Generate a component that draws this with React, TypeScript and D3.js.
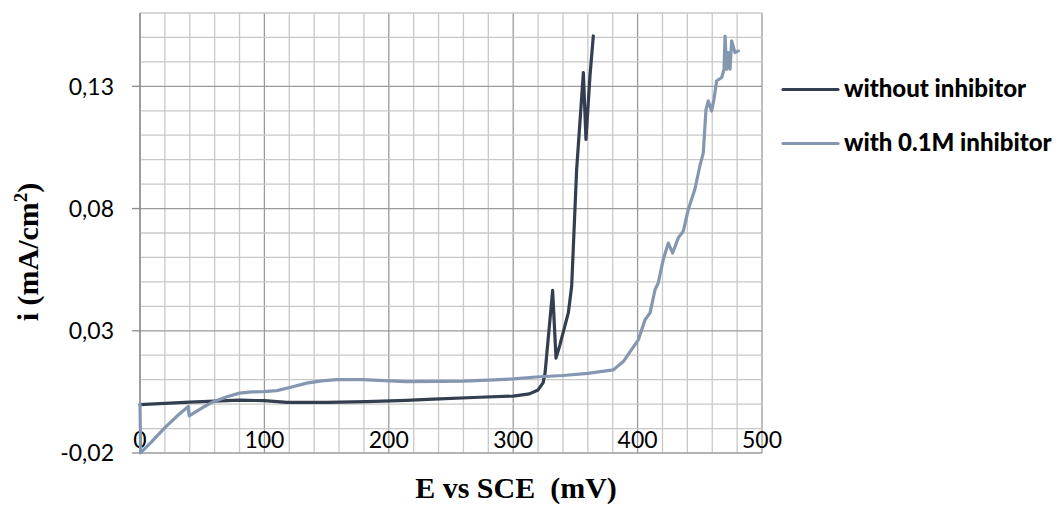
import React from "react";
import * as d3 from "d3";

// potential (mV) and current density (mA/cm2)
const withoutE = [0, 20, 40, 60, 80, 100, 118, 150, 182, 214, 236, 273, 300, 313, 320, 324, 325.6, 331.7, 334.4, 337.6, 344.3, 347, 351, 356.4, 358.5, 361.7, 364.4];
const withoutI = [-0.0002, 0.0003, 0.0008, 0.0012, 0.0016, 0.0014, 0.0007, 0.0007, 0.001, 0.0015, 0.002, 0.0028, 0.0033, 0.0042, 0.0058, 0.0087, 0.0127, 0.0465, 0.0188, 0.0243, 0.0373, 0.0482, 0.096, 0.1356, 0.1083, 0.1342, 0.1506];

const withE = [0, 0.5, 10, 20, 30, 38.8, 39.5, 50, 59, 70, 80, 90, 99, 110, 122, 134, 146, 158, 179, 214, 240, 260, 280, 300, 321, 340, 360, 370, 380.5, 388.5, 394, 400.6, 406, 410, 414, 416.6, 420.6, 424.7, 428.2, 432.7, 436.7, 440.7, 446, 450, 452.8, 455, 456.8, 459.5, 461.4, 463.5, 467.6, 469.5, 470.3, 471.6, 472.9, 474.3, 475.6, 478.3, 481];
const withI = [0, -0.02, -0.015, -0.0096, -0.0048, -0.001, -0.0048, -0.0015, 0.001, 0.003, 0.0045, 0.005, 0.0051, 0.0055, 0.007, 0.0086, 0.0095, 0.01, 0.01, 0.0092, 0.0093, 0.0094, 0.0098, 0.0103, 0.0112, 0.0117, 0.0126, 0.0133, 0.014, 0.0174, 0.0215, 0.0263, 0.0345, 0.0373, 0.0468, 0.0496, 0.0591, 0.0659, 0.0618, 0.068, 0.0707, 0.0796, 0.0878, 0.0973, 0.1028, 0.1206, 0.124, 0.1199, 0.1247, 0.1322, 0.1336, 0.137, 0.1506, 0.137, 0.1438, 0.137, 0.1486, 0.1438, 0.1445];

const xTicks = [0, 100, 200, 300, 400, 500];
const yTicks = [-0.02, 0.03, 0.08, 0.13];
const seriesNames = ["without inhibitor", "with 0.1M inhibitor"];
const seriesColors = ["#333f50", "#8497b0"];

// excel style: comma decimal, plain hyphen
const fmtY = (v: number) => v.toFixed(2).replace(".", ",");

export default function App() {
  const x = d3.scaleLinear().domain([0, 500]).range([140, 762]);
  const y = d3.scaleLinear().domain([-0.02, 0.16]).range([453, 13]);

  const line = d3
    .line<[number, number]>()
    .x((d) => x(d[0]))
    .y((d) => y(d[1]));

  const series = [
    withoutE.map((e, i) => [e, withoutI[i]] as [number, number]),
    withE.map((e, i) => [e, withI[i]] as [number, number]),
  ];

  const minorX = d3.range(0, 501, 20);
  const minorY = d3.range(0, 19).map((i) => -0.02 + i * 0.01);

  const tickFont = "Lato, 'Open Sans', sans-serif";
  const titleFont = "'Liberation Serif', 'Times New Roman', serif";

  return (
    <svg width={1059} height={506} style={{ position: "absolute", left: 0, top: 0, background: "#fff" }}>
      <g>
        {minorX.map((v) => (
          <line key={"mx" + v} x1={x(v)} x2={x(v)} y1={y(0.16)} y2={y(-0.02)} stroke={v % 100 === 0 ? "#9a9a9a" : "#c8c8c8"} strokeWidth={1.3} />
        ))}
        {minorY.map((v, i) => (
          <line key={"my" + i} x1={x(0)} x2={x(500)} y1={y(v)} y2={y(v)} stroke={i % 5 === 0 ? "#9a9a9a" : "#c8c8c8"} strokeWidth={1.3} />
        ))}
      </g>
      {/* y axis */}
      <line x1={x(0)} x2={x(0)} y1={y(0.16)} y2={y(-0.02)} stroke="#8c8c8c" strokeWidth={1.3} />
      {yTicks.map((v) => (
        <g key={"yt" + v}>
          <line x1={132} x2={x(0)} y1={y(v)} y2={y(v)} stroke="#8c8c8c" strokeWidth={1.3} />
          <text x={114} y={y(v)} dy="0.36em" textAnchor="end" fontFamily={tickFont} fontSize={23} fill="#000">
            {fmtY(v)}
          </text>
        </g>
      ))}
      {xTicks.map((v) => (
        <text key={"xt" + v} x={x(v)} y={448} textAnchor="middle" fontFamily={tickFont} fontSize={23} fill="#000">
          {v}
        </text>
      ))}
      {series.map((s, i) => (
        <path key={"s" + i} d={line(s) || ""} fill="none" stroke={seriesColors[i]} strokeWidth={3.2} strokeLinejoin="round" strokeLinecap="round" />
      ))}
      {seriesNames.map((n, i) => (
        <g key={"lg" + i}>
          <line x1={783} x2={838} y1={89.5 + i * 54} y2={89.5 + i * 54} stroke={seriesColors[i]} strokeWidth={3.2} strokeLinecap="round" />
          <text x={844} y={97 + i * 54} fontFamily={tickFont} fontWeight={900} fontSize={24} fill="#000">
            {n}
          </text>
        </g>
      ))}
      <text x={516} y={498} textAnchor="middle" fontFamily={titleFont} fontWeight="bold" fontSize={30} fill="#000" style={{ whiteSpace: "pre" }}>
        {"E vs SCE  (mV)"}
      </text>
      <text transform="translate(38,252) rotate(-90)" textAnchor="middle" fontFamily={titleFont} fontWeight="bold" fontSize={30} fill="#000">
        i (mA/cm
        <tspan fontSize={19} dy={-11}>2</tspan>
        <tspan dy={11}>)</tspan>
      </text>
    </svg>
  );
}
